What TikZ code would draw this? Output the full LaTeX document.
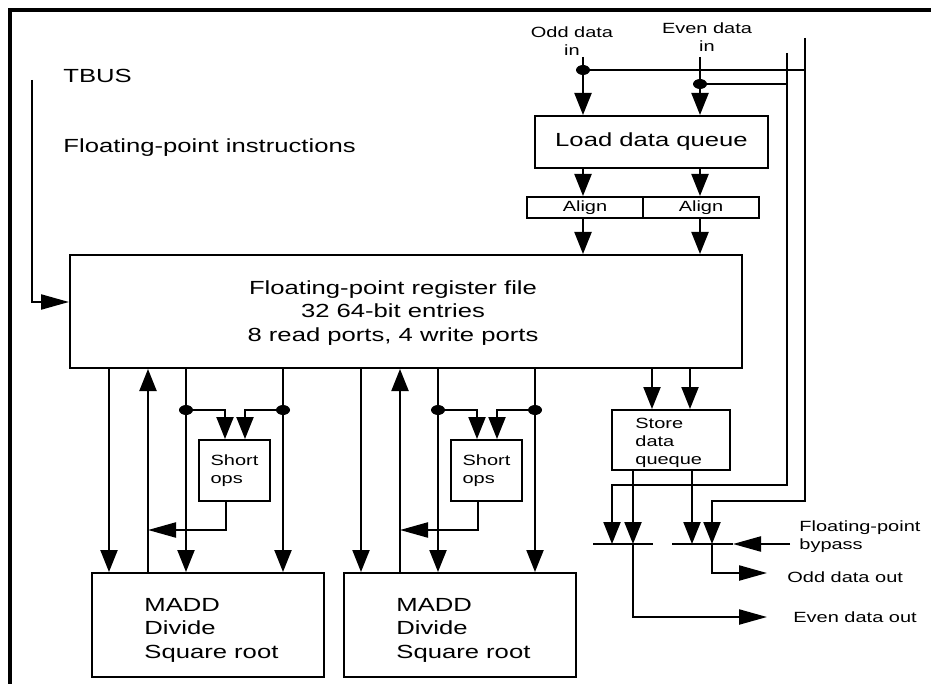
\documentclass[tikz,border=0pt]{standalone}
\usepackage{fontspec}
\setmainfont{Liberation Sans}[FakeStretch=1.35]
\usetikzlibrary{arrows.meta}
\begin{document}
\begin{tikzpicture}[x=0.5pt,y=-0.5pt,
  wire/.style={line width=1.1pt},
  varr/.style={wire,-{Triangle[length=11pt,width=8.5pt]}},
  harr/.style={wire,-{Triangle[length=14pt,width=7.5pt]}},
  box/.style={draw,line width=1pt,inner sep=0pt},
  txt/.style={inner sep=0pt},
  big/.style={txt,font=\fontsize{9.5}{11.75}\selectfont},
  small/.style={txt,font=\fontsize{7.4}{9}\selectfont},
  jdot/.style={x radius=3.5pt,y radius=2.5pt}]
\useasboundingbox (0,0) rectangle (931,684);
% frame
\draw[line width=2pt] (10,684) -- (10,10) -- (931,10);

% boxes
\node[box, minimum width=336pt, minimum height=56.5pt] (regf) at (406,311.5) {};
\node[big, align=center] (regtxt) at (393,313) {Floating-point register file\\32 64-bit entries\\8 read ports, 4 write ports};
\node[box, big, minimum width=116.5pt, minimum height=26pt] (ldq) at (651.5,142) {Load data queue};
\node[box, small, minimum width=58pt, minimum height=10.5pt] (al1) at (585,207.5) {Align};
\node[box, small, minimum width=58pt, minimum height=10.5pt] (al2) at (701,207.5) {Align};
\node[box, minimum width=59pt, minimum height=30pt] (sdq) at (671,440) {};
\node[small, align=left, anchor=west] (sdqtxt) at (635,443) {Store\\data\\queque};
\node[box, small, align=left, minimum width=35.5pt, minimum height=30.5pt] (so1) at (234.5,470.5) {Short\\ops};
\node[box, small, align=left, minimum width=35.5pt, minimum height=30.5pt] (so2) at (486.5,470.5) {Short\\ops};
\node[box, minimum width=116pt, minimum height=52pt] (m1) at (208,625) {};
\node[box, minimum width=116pt, minimum height=52pt] (m2) at (460,625) {};
\node[big, align=left, anchor=west] (m1txt) at (144,630) {MADD\\Divide\\Square root};
\node[big, align=left, anchor=west] (m2txt) at (396,630) {MADD\\Divide\\Square root};

% texts
\node[big, anchor=base west] (tbus) at (63,83) {TBUS};
\node[big, anchor=base west] (fpi) at (63,153) {Floating-point instructions};
\node[small, align=center] (oddin) at (572,41) {Odd data\\in};
\node[small, align=center] (evenin) at (707,37) {Even data\\in};
\node[small, align=left, anchor=west] (byp) at (799,537) {Floating-point\\bypass};
\node[small, anchor=west] (oddout) at (787,577) {Odd data out};
\node[small, anchor=west] (evenout) at (793,617) {Even data out};

% TBUS wire
\coordinate (tb) at (32,80);
\coordinate (tbturn) at (32,302);
\draw[harr] (tb) -- (tbturn) -- (regf.west |- tbturn);

% load side
\coordinate (oddtop) at (583,57);
\coordinate (oddj) at (583,70);
\coordinate (eventop) at (700,57);
\coordinate (evenj) at (700,84);
\coordinate (r1top) at (787,53);
\coordinate (r1bot) at (787,485);
\coordinate (r2top) at (805,38);
\coordinate (r2bot) at (805,501);
\draw[varr] (oddtop) -- (ldq.north -| oddtop);
\draw[varr] (eventop) -- (ldq.north -| eventop);
\draw[wire] (oddj) -- (oddj -| r2top);
\draw[wire] (evenj) -- (evenj -| r1top);
\fill (oddj) ellipse [jdot];
\fill (evenj) ellipse [jdot];
\draw[varr] (ldq.south -| oddtop) -- (al1.north -| oddtop);
\draw[varr] (ldq.south -| eventop) -- (al2.north -| eventop);
\draw[varr] (al1.south -| oddtop) -- (regf.north -| oddtop);
\draw[varr] (al2.south -| eventop) -- (regf.north -| eventop);

% store side
\coordinate (xs1) at (652,0);
\coordinate (xs2) at (690,0);
\draw[varr] (regf.south -| xs1) -- (sdq.north -| xs1);
\draw[varr] (regf.south -| xs2) -- (sdq.north -| xs2);

\coordinate (bar1l) at (593,544);
\coordinate (bar1r) at (653,544);
\coordinate (bar2l) at (672,544);
\coordinate (bypt) at (733,544);
\coordinate (bypin) at (790,544);
\draw[wire] (bar1l) -- (bar1r);
\draw[wire] (bar2l) -- (bypt);
\draw[harr] (bypin) -- (bypt);

\coordinate (xa) at (612,0);
\coordinate (xb) at (633,0);
\coordinate (xc) at (692,0);
\coordinate (xd) at (712,0);
\draw[varr] (r1top) -- (r1bot) -- (r1bot -| xa) -- (bar1l -| xa);
\draw[varr] (r2top) -- (r2bot) -- (r2bot -| xd) -- (bar2l -| xd);
\draw[varr] (sdq.south -| xb) -- (bar1l -| xb);
\draw[varr] (sdq.south -| xc) -- (bar2l -| xc);
\coordinate (eventurn) at (633,617);
\coordinate (evenend) at (767,617);
\coordinate (oddturn) at (712,573);
\coordinate (oddend) at (767,573);
\draw[harr] (bar1l -| xb) -- (eventurn) -- (evenend);
\draw[harr] (bar2l -| xd) -- (oddturn) -- (oddend);

% execution groups
\foreach \o/\m/\s in {0/m1/so1,252/m2/so2}{
  \coordinate (\m a) at (109+\o,410);
  \coordinate (\m b) at (148+\o,530);
  \coordinate (\m c) at (186+\o,410);
  \coordinate (\m d) at (283+\o,410);
  \coordinate (\m e) at (225+\o,410);
  \coordinate (\m f) at (245+\o,410);
  \coordinate (\m g) at (226+\o,530);
  \draw[varr] (regf.south -| \m a) -- (\m.north -| \m a);
  \draw[varr] (\m.north -| \m b) -- (regf.south -| \m b);
  \draw[varr] (regf.south -| \m c) -- (\m.north -| \m c);
  \draw[varr] (regf.south -| \m d) -- (\m.north -| \m d);
  \draw[varr] (\m c) -- (\m e) -- (\s.north -| \m e);
  \draw[varr] (\m d) -- (\m f) -- (\s.north -| \m f);
  \draw[harr] (\s.south -| \m g) -- (\m g) -- (\m b);
  \fill (\m c) ellipse [jdot];
  \fill (\m d) ellipse [jdot];
}
\end{tikzpicture}
\end{document}
